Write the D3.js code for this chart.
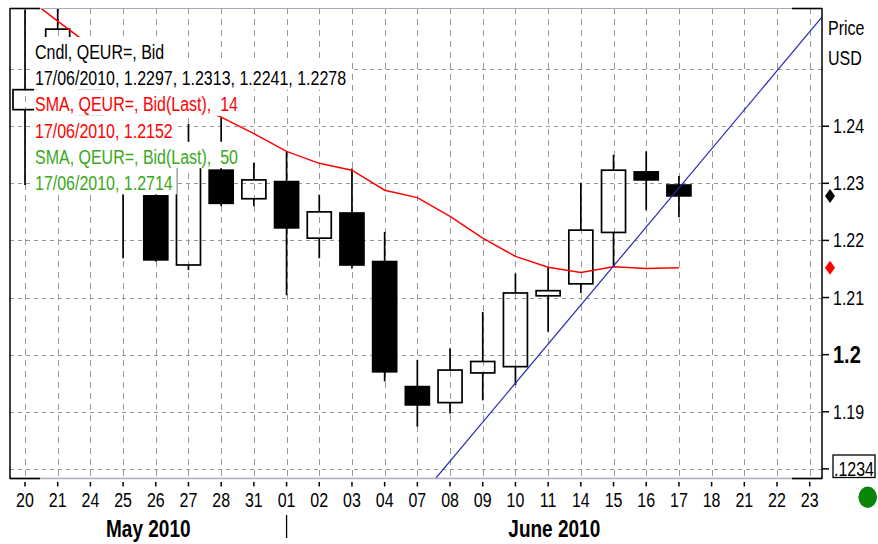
<!DOCTYPE html>
<html>
<head>
<meta charset="utf-8">
<script src="https://cdn.jsdelivr.net/npm/d3@7"></script>
<style>
  body { margin: 0; background: #fff; }
  text { font-family: "Liberation Sans", Arial, sans-serif; white-space: pre; }
</style>
</head>
<body>
<svg width="878" height="544"></svg>
<script>
// trading days shown on the x axis (May 20 -> June 23, 2010)
let dates = ["20","21","24","25","26","27","28","31","01","02","03","04","07","08","09","10","11","14","15","16","17","18","21","22","23"];

// QEUR= bid candles, one per day up to 17/06
let opens  = [1.2429,1.2525,1.2485,1.2330,1.2278,1.2157,1.2323,1.2273,1.2303,1.2204,1.2248,1.2163,1.1944,1.1916,1.1968,1.1979,1.2103,1.2124,1.2214,1.2320,1.2297];
let highs  = [1.2604,1.2607,1.2505,1.2360,1.2290,1.2404,1.2416,1.2336,1.2356,1.2280,1.2326,1.2215,1.1991,1.2011,1.2075,1.2142,1.2153,1.2301,1.2350,1.2356,1.2313];
let lows   = [1.2297,1.2490,1.2395,1.2169,1.2163,1.2148,1.2260,1.2260,1.2104,1.2169,1.2151,1.1953,1.1874,1.1897,1.1920,1.1947,1.2040,1.2108,1.2155,1.2253,1.2241];
let closes = [1.2464,1.2570,1.2415,1.2285,1.2166,1.2340,1.2265,1.2306,1.2222,1.2250,1.2157,1.1970,1.1912,1.1973,1.1988,1.2108,1.2112,1.2218,1.2323,1.2306,1.2278];

// SMA 14 on the bid
let sma14 = [1.2628,1.2584,1.2541,1.2502,1.2467,1.2439,1.2416,1.2387,1.2356,1.2335,1.2323,1.2288,1.2275,1.2242,1.2204,1.2172,1.2153,1.2144,1.2154,1.2151,1.2152];

// hand drawn trend line: [day index, price]
let trend = [[12.57, 1.1784], [24.36, 1.2590]];

let yTicks = [1.19, 1.2, 1.21, 1.22, 1.23, 1.24];
let yGrid = [1.18, 1.19, 1.2, 1.21, 1.22, 1.23, 1.24, 1.25];

let legend = [
  ["Cndl, QEUR=, Bid", "#000"],
  ["17/06/2010, 1.2297, 1.2313, 1.2241, 1.2278", "#000"],
  ["SMA, QEUR=, Bid(Last),  14", "#ff0000"],
  ["17/06/2010, 1.2152", "#ff0000"],
  ["SMA, QEUR=, Bid(Last),  50", "#3aa81c"],
  ["17/06/2010, 1.2714", "#3aa81c"]
];

let svg = d3.select("svg"),
    box = {left: 10, right: 822, top: 8, bottom: 478},
    SY = 1.22;   // the original text is stretched vertically

let x = d3.scaleLinear().domain([0, dates.length - 1]).range([25, 809.7]);
let y = d3.scaleLinear().domain([1.1784, 1.2607]).range([box.bottom, box.top]);

let txt = (g, px, py, s, size, weight, anchor, fill) =>
  g.append("text")
    .attr("transform", "translate(" + px + "," + py + ") scale(1," + SY + ")")
    .attr("font-size", size || 16)
    .attr("font-weight", weight || "normal")
    .attr("text-anchor", anchor || "start")
    .attr("fill", fill || "#000")
    .text(s);

svg.append("clipPath").attr("id", "plot")
  .append("rect").attr("x", box.left).attr("y", box.top)
  .attr("width", box.right - box.left).attr("height", box.bottom - box.top);

// grid
let grid = svg.append("g").attr("stroke", "#999").attr("stroke-width", 1);
grid.selectAll(".h").data(yGrid).enter().append("line")
    .attr("x1", box.left).attr("x2", box.right)
    .attr("y1", (d) => Math.round(y(d)) + 0.5).attr("y2", (d) => Math.round(y(d)) + 0.5)
    .attr("stroke-dasharray", "4,4");
grid.selectAll(".v").data(dates).enter().append("line")
    .attr("x1", (d, i) => Math.round(x(i)) + 0.5).attr("x2", (d, i) => Math.round(x(i)) + 0.5)
    .attr("y1", box.top).attr("y2", box.bottom)
    .attr("stroke-dasharray", "6,5");

let plot = svg.append("g").attr("clip-path", "url(#plot)");

// candles
let candles = opens.map((o, i) => ({i: i, o: o, h: highs[i], l: lows[i], c: closes[i]}));
let cw = 24;
let cg = plot.selectAll(".candle").data(candles).enter().append("g")
    .attr("stroke", "#000").attr("stroke-width", 1.7);
cg.append("line")
    .attr("x1", (d) => x(d.i)).attr("x2", (d) => x(d.i))
    .attr("y1", (d) => y(d.h)).attr("y2", (d) => y(Math.max(d.o, d.c)));
cg.append("line")
    .attr("x1", (d) => x(d.i)).attr("x2", (d) => x(d.i))
    .attr("y1", (d) => y(Math.min(d.o, d.c))).attr("y2", (d) => y(d.l));
cg.append("rect")
    .attr("x", (d) => x(d.i) - cw / 2).attr("width", cw)
    .attr("y", (d) => y(Math.max(d.o, d.c)))
    .attr("height", (d) => Math.max(1, y(Math.min(d.o, d.c)) - y(Math.max(d.o, d.c))))
    .attr("fill", (d) => d.c < d.o ? "#000" : "none");

// SMA 14
plot.append("path")
    .datum(sma14)
    .attr("fill", "none").attr("stroke", "#ff0000").attr("stroke-width", 1.5)
    .attr("d", d3.line().x((d, i) => x(i)).y((d) => y(d)));

// trend line
plot.append("path")
    .datum(trend)
    .attr("fill", "none").attr("stroke", "#2a2ab8").attr("stroke-width", 1.2)
    .attr("d", d3.line().x((d) => x(d[0])).y((d) => y(d[1])));

// legend with white backing
let lg = svg.append("g");
legend.forEach((row, k) => {
  let bg = lg.append("rect").attr("fill", "#fff");
  let t = txt(lg, 35, 59 + k * 26.2, row[0], 16, "normal", "start", row[1]);
  bg.attr("x", 34).attr("y", 37 + k * 26.2)
    .attr("width", t.node().getComputedTextLength() + 5).attr("height", 26.4);
});

// frame
svg.append("line").attr("x1", box.left).attr("x2", box.right).attr("y1", box.top + 0.5).attr("y2", box.top + 0.5)
    .attr("stroke", "#aaaabb");
svg.append("line").attr("x1", box.left).attr("x2", box.right).attr("y1", box.bottom + 0.5).attr("y2", box.bottom + 0.5)
    .attr("stroke", "#aaaabb").attr("stroke-width", 1.5);
svg.append("line").attr("x1", box.left).attr("x2", box.left).attr("y1", box.top).attr("y2", box.bottom + 1)
    .attr("stroke", "#000").attr("stroke-width", 1.5);
svg.append("line").attr("x1", box.right).attr("x2", box.right).attr("y1", box.top).attr("y2", box.bottom + 1)
    .attr("stroke", "#000").attr("stroke-width", 1.5);
[[box.left, box.left + 30, box.top], [box.right - 30, box.right, box.top],
 [box.left, box.left + 30, box.bottom], [box.right - 30, box.right, box.bottom]]
  .forEach((s) => svg.append("line").attr("x1", s[0]).attr("x2", s[1])
    .attr("y1", s[2] + 0.5).attr("y2", s[2] + 0.5).attr("stroke", "#000").attr("stroke-width", 1.6));

// right price axis
let ya = svg.append("g");
ya.selectAll("line").data(yTicks.concat([1.18])).enter().append("line")
    .attr("x1", box.right).attr("x2", box.right + 7)
    .attr("y1", (d) => y(d)).attr("y2", (d) => y(d))
    .attr("stroke", "#000").attr("stroke-width", 1.5);
yTicks.forEach((v) => {
  if (v === 1.2) txt(ya, 833, y(v) + 8.5, d3.format("")(v), 20, "bold");
  else txt(ya, 833, y(v) + 7, d3.format("")(v), 16);
});
ya.append("rect").attr("x", 833).attr("y", 455).attr("width", 42).attr("height", 22.5)
    .attr("fill", "#fff").attr("stroke", "#000").attr("stroke-width", 1.3);
txt(ya, 854, y(1.18) + 7, ".1234", 16, "normal", "middle");
txt(ya, 828, 35, "Price", 16);
txt(ya, 828, 65, "USD", 16);

// last value markers
let diamond = (cx, cy, col) => svg.append("path")
    .attr("d", "M" + cx + "," + (cy - 7) + "L" + (cx + 5) + "," + cy + "L" + cx + "," + (cy + 7) + "L" + (cx - 5) + "," + cy + "Z")
    .attr("fill", col);
diamond(830, y(closes[closes.length - 1]), "#000");
diamond(830, y(sma14[sma14.length - 1]), "#ff0000");

svg.append("ellipse").attr("cx", 867.7).attr("cy", 497.3).attr("rx", 9.3).attr("ry", 10.7)
    .attr("fill", "#0b860b");

// date axis
let xa = svg.append("g");
xa.selectAll("line").data(dates).enter().append("line")
    .attr("x1", (d, i) => x(i)).attr("x2", (d, i) => x(i))
    .attr("y1", 482).attr("y2", 486.5)
    .attr("stroke", "#000").attr("stroke-width", 1.5);
dates.forEach((d, i) => txt(xa, x(i), 506.5, d, 16, "normal", "middle"));

let junePos = x(dates.indexOf("01"));
xa.append("line").attr("x1", junePos).attr("x2", junePos).attr("y1", 515).attr("y2", 538)
    .attr("stroke", "#000").attr("stroke-width", 1.3);
txt(xa, (box.left + junePos) / 2, 537, "May 2010", 19, "bold", "middle");
txt(xa, (junePos + box.right) / 2, 537, "June 2010", 19, "bold", "middle");
</script>
</body>
</html>
